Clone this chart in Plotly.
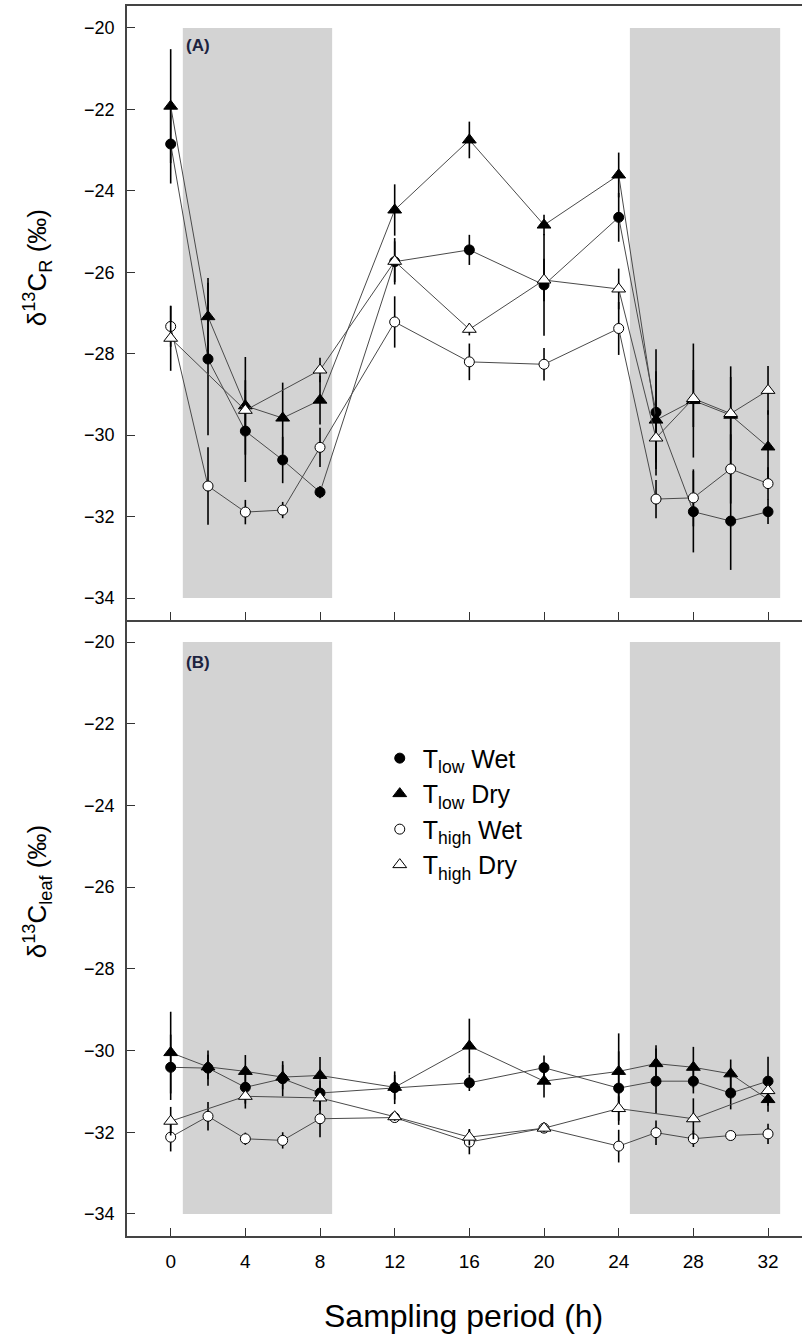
import plotly.graph_objects as go

hours = [0, 2, 4, 6, 8, 12, 16, 20, 24, 26, 28, 30, 32]

# Panel A: delta13C of respired CO2 (permil)
r_low_wet = [-22.85, -28.13, -29.9, -30.61, -31.4, -25.74, -25.45, -26.31, -24.65, -29.44, -31.88, -32.11, -31.88]
r_low_wet_se = [0.97, 1.87, 1.25, 0.57, 0.15, 0.5, 0.37, 1.25, 0.6, 1.55, 1.0, 1.2, 0.3]
r_low_dry = [-21.92, -27.09, -29.28, -29.58, -29.14, -24.47, -22.75, -24.84, -23.61, -29.63, -29.15, -29.51, -30.29]
r_low_dry_se = [1.4, 0.95, 1.2, 0.87, 0.6, 0.63, 0.45, 0.25, 0.55, 1.2, 1.4, 1.2, 0.9]
r_high_wet = [-27.33, -31.25, -31.89, -31.84, -30.3, -27.22, -28.2, -28.26, -27.38, -31.57, -31.54, -30.83, -31.19]
r_high_wet_se = [0.5, 0.95, 0.3, 0.2, 0.48, 0.63, 0.45, 0.4, 0.65, 0.47, 0.7, 0.85, 0.4]
r_high_dry = [-27.62, None, -29.39, None, -28.4, -25.73, -27.4, -26.19, -26.41, -30.07, -29.1, -29.47, -28.9]
r_high_dry_se = [0.8, None, 0.5, None, 0.3, 0.57, 0.15, 0.52, 0.5, 0.6, 0.7, 0.9, 0.6]

# Panel B: delta13C of leaf (permil)
l_low_wet = [-30.41, -30.43, -30.9, -30.69, -31.04, -30.91, -30.79, -30.42, -30.92, -30.75, -30.75, -31.04, -30.75]
l_low_wet_se = [0.8, 0.43, 0.4, 0.43, 0.3, 0.4, 0.2, 0.3, 0.9, 0.8, 0.3, 0.4, 0.6]
l_low_dry = [-30.05, -30.4, -30.51, -30.65, -30.61, -30.9, -29.89, -30.75, -30.51, -30.32, -30.41, -30.57, -31.2]
l_low_dry_se = [1.0, 0.3, 0.4, 0.3, 0.45, 0.3, 0.67, 0.4, 0.93, 0.45, 0.5, 0.35, 0.3]
l_high_wet = [-32.12, -31.61, -32.16, -32.2, -31.67, -31.64, -32.24, -31.9, -32.34, -32.01, -32.16, -32.08, -32.04]
l_high_wet_se = [0.35, 0.35, 0.15, 0.2, 0.45, 0.1, 0.3, 0.1, 0.4, 0.3, 0.2, 0.1, 0.25]
l_high_dry = [-31.73, None, -31.12, None, -31.16, -31.62, -32.12, -31.9, -31.42, None, -31.67, None, -30.98]
l_high_dry_se = [0.35, None, 0.3, None, 0.3, 0.1, 0.2, 0.1, 0.3, None, 0.5, None, 0.3]

dark_periods = [(0.65, 8.65), (24.6, 32.65)]
y_ticks = [-20, -22, -24, -26, -28, -30, -32, -34]
y_ticktext = ["\u221220", "\u221222", "\u221224", "\u221226", "\u221228", "\u221230", "\u221232", "\u221234"]
x_ticks = [0, 4, 8, 12, 16, 20, 24, 28, 32]

series_names = ["T<sub>low</sub> Wet", "T<sub>low</sub> Dry", "T<sub>high</sub> Wet", "T<sub>high</sub> Dry"]
styles = [
    dict(symbol="circle", size=10, color="black", line=dict(color="black", width=1)),
    dict(symbol="triangle-up", size=12, color="black", line=dict(color="black", width=1)),
    dict(symbol="circle", size=10, color="white", line=dict(color="black", width=1)),
    dict(symbol="triangle-up", size=12, color="white", line=dict(color="black", width=1)),
]

fig = go.Figure()

panels = [
    ("x", "y", [r_low_wet, r_low_dry, r_high_wet, r_high_dry],
     [r_low_wet_se, r_low_dry_se, r_high_wet_se, r_high_dry_se]),
    ("x2", "y2", [l_low_wet, l_low_dry, l_high_wet, l_high_dry],
     [l_low_wet_se, l_low_dry_se, l_high_wet_se, l_high_dry_se]),
]

for xa, ya, vals, errs in panels:
    for name, st, v, e in zip(series_names, styles, vals, errs):
        fig.add_trace(go.Scatter(
            x=hours, y=v, xaxis=xa, yaxis=ya, mode="lines+markers",
            connectgaps=True, showlegend=False, name=name,
            line=dict(color="#4a4a4a", width=1),
            marker=st,
            error_y=dict(type="data", array=e, visible=True, color="black",
                         thickness=1.6, width=0),
        ))

# legend-only entries (markers only)
for name, st in zip(series_names, styles):
    fig.add_trace(go.Scatter(x=[None], y=[None], xaxis="x2", yaxis="y2",
                             mode="markers", name=name, marker=st, showlegend=True))

shapes = []
for xr, yr in [("x", "y"), ("x2", "y2")]:
    for a, b in dark_periods:
        shapes.append(dict(type="rect", xref=xr, yref=yr, x0=a, x1=b, y0=-34, y1=-20,
                           fillcolor="#d3d3d3", line=dict(width=0), layer="below"))

xrange = [-2.34, 33.82]
yrange = [-34.54, -19.46]
split = (1236 - 620) / 1230

axis_common = dict(showgrid=False, zeroline=False, showline=True, linecolor="#444",
                   linewidth=1.5, ticks="inside", ticklen=8, tickwidth=1.3, tickcolor="#333")

fig.update_layout(
    width=802, height=1337,
    margin=dict(l=127, r=0, t=6, b=101),
    paper_bgcolor="white", plot_bgcolor="white",
    font=dict(family="Liberation Sans, Arial, sans-serif", color="black"),
    shapes=shapes,
    xaxis=dict(domain=[0, 1], anchor="y", range=xrange, tickvals=x_ticks,
               showticklabels=False, mirror=True, **axis_common),
    yaxis=dict(domain=[split, 1], anchor="x", range=yrange, tickvals=y_ticks,
               ticktext=y_ticktext, tickfont=dict(size=18), ticklabelstandoff=7,
               **axis_common),
    xaxis2=dict(domain=[0, 1], anchor="y2", range=xrange, tickvals=x_ticks,
                tickfont=dict(size=19), ticklabelstandoff=7, **axis_common),
    yaxis2=dict(domain=[0, split], anchor="x2", range=yrange, tickvals=y_ticks,
                ticktext=y_ticktext, tickfont=dict(size=18), ticklabelstandoff=7,
                **axis_common),
    showlegend=True,
    legend=dict(x=0.37, y=0.407, xanchor="left", yanchor="top",
                bgcolor="rgba(0,0,0,0)", font=dict(size=25), tracegroupgap=0,
                itemsizing="trace", itemwidth=36),
    annotations=[
        dict(text="<b>(A)</b>", xref="paper", yref="paper", x=0.0844, y=(1236 - 45) / 1230,
             xanchor="left", yanchor="middle", showarrow=False,
             font=dict(size=17, color="#1c2340")),
        dict(text="<b>(B)</b>", xref="paper", yref="paper", x=0.0844, y=(1236 - 662) / 1230,
             xanchor="left", yanchor="middle", showarrow=False,
             font=dict(size=17, color="#1c2340")),
        dict(text="\u03b4<sup>13</sup>C<sub>R</sub> (\u2030)", xref="paper", yref="paper",
             x=-0.133, y=(1236 - 268) / 1230, xanchor="center", yanchor="middle",
             textangle=-90, showarrow=False, font=dict(size=26)),
        dict(text="\u03b4<sup>13</sup>C<sub>leaf</sub> (\u2030)", xref="paper", yref="paper",
             x=-0.133, y=(1236 - 892) / 1230, xanchor="center", yanchor="middle",
             textangle=-90, showarrow=False, font=dict(size=26)),
        dict(text="Sampling period (h)", xref="paper", yref="paper",
             x=(463 - 127) / 675, y=(1236 - 1316) / 1230, xanchor="center", yanchor="middle",
             showarrow=False, font=dict(size=32)),
    ],
)

fig.write_html("out.html")
